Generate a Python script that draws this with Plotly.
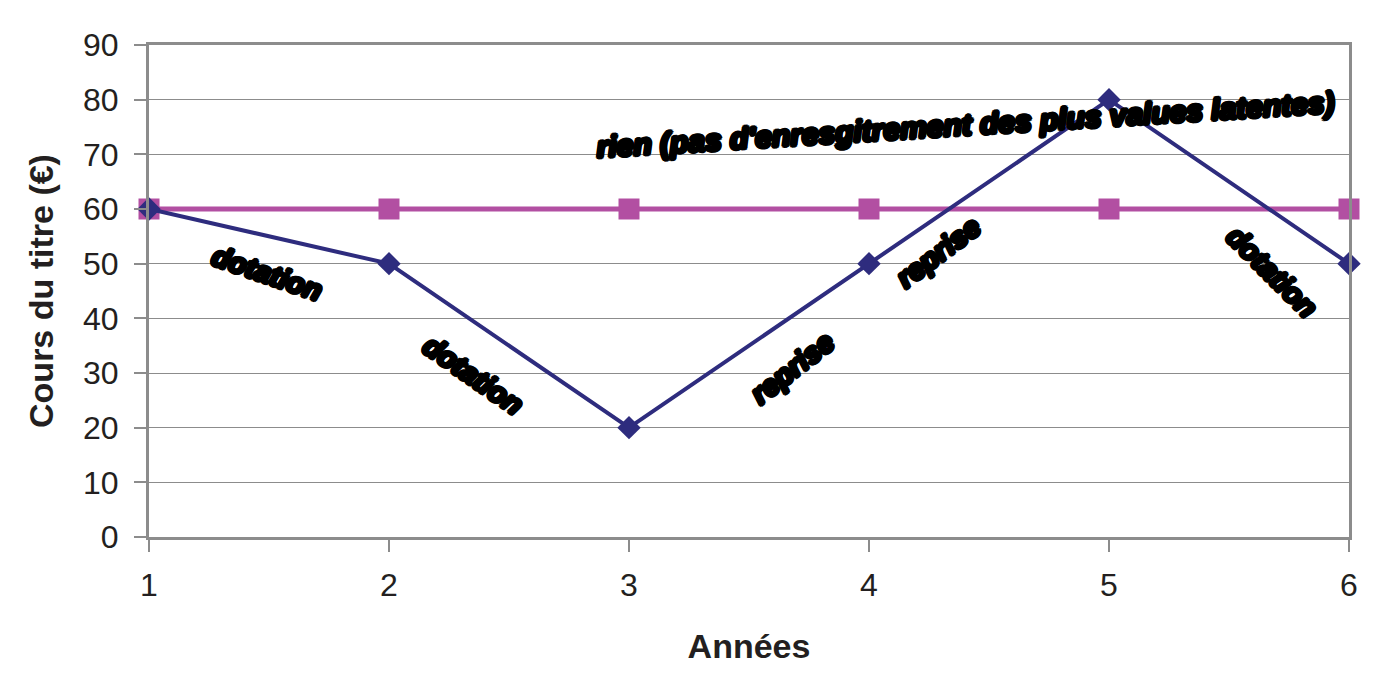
import plotly.graph_objects as go

annees = [1, 2, 3, 4, 5, 6]
cours = [60, 50, 20, 50, 80, 50]
valeur_acquisition = [60, 60, 60, 60, 60, 60]

labels = ["dotation", "dotation", "reprise", "reprise", "dotation",
          "rien (pas d'enresgitrement des plus values latentes)"]
label_x = [1.49, 2.35, 3.68, 4.29, 5.68, 4.40]
label_y = [48.3, 29.6, 30.9, 52.1, 48.5, 75.4]
label_angle = [19, 35, -38, -37, 45, -3.5]
label_size = [29, 29, 29, 29, 29, 30]

NAVY = "#2E2C7E"
MAGENTA = "#B24FA2"
GRID = "#8C8C8C"
TEXT = "#231F20"

fig = go.Figure()
fig.add_trace(go.Scatter(
    x=annees, y=valeur_acquisition, mode="lines+markers",
    line=dict(color=MAGENTA, width=5),
    marker=dict(symbol="square", size=21, color=MAGENTA),
    showlegend=False, cliponaxis=False))
fig.add_trace(go.Scatter(
    x=annees, y=cours, mode="lines+markers",
    line=dict(color=NAVY, width=4),
    marker=dict(symbol="diamond", size=18, color=NAVY),
    showlegend=False, cliponaxis=False))

stroke = ("2px 0 0 #000, -2px 0 0 #000, 0 2px 0 #000, 0 -2px 0 #000, "
          "1.4px 1.4px 0 #000, -1.4px -1.4px 0 #000, 1.4px -1.4px 0 #000, -1.4px 1.4px 0 #000")
for t, x, y, a, s in zip(labels, label_x, label_y, label_angle, label_size):
    fig.add_annotation(
        x=x, y=y, text=t, showarrow=False, textangle=a,
        font=dict(family="Liberation Sans, Arial",
                  size=s, color="#000", weight="bold", style="italic",
                  shadow=stroke))

fig.update_layout(
    width=1382, height=695,
    margin=dict(l=141, r=41, t=37, b=166),
    paper_bgcolor="white", plot_bgcolor="white",
    font=dict(family="Liberation Sans, Arial", color=TEXT),
)
fig.update_xaxes(
    range=[1, 6], tickvals=annees, ticks="outside", ticklen=12,
    tickcolor=GRID, tickwidth=1.5, automargin=False, ticklabelstandoff=6,
    showline=True, linecolor=GRID, linewidth=3, mirror=True,
    showgrid=False, zeroline=False,
    tickfont=dict(size=32, color=TEXT),
    title=dict(text="<b>Années</b>", font=dict(size=34, color=TEXT), standoff=32))
fig.update_yaxes(
    range=[0, 90], dtick=10, ticks="outside", ticklen=12,
    tickcolor=GRID, tickwidth=1.5, automargin=False, ticklabelstandoff=9,
    showline=True, linecolor=GRID, linewidth=3, mirror=True,
    showgrid=True, gridcolor=GRID, gridwidth=1.2, zeroline=False,
    tickfont=dict(size=32, color=TEXT),
    title=dict(text="<b>Cours du titre (€)</b>", font=dict(size=34, color=TEXT), standoff=20))

fig.write_html("out.html")
